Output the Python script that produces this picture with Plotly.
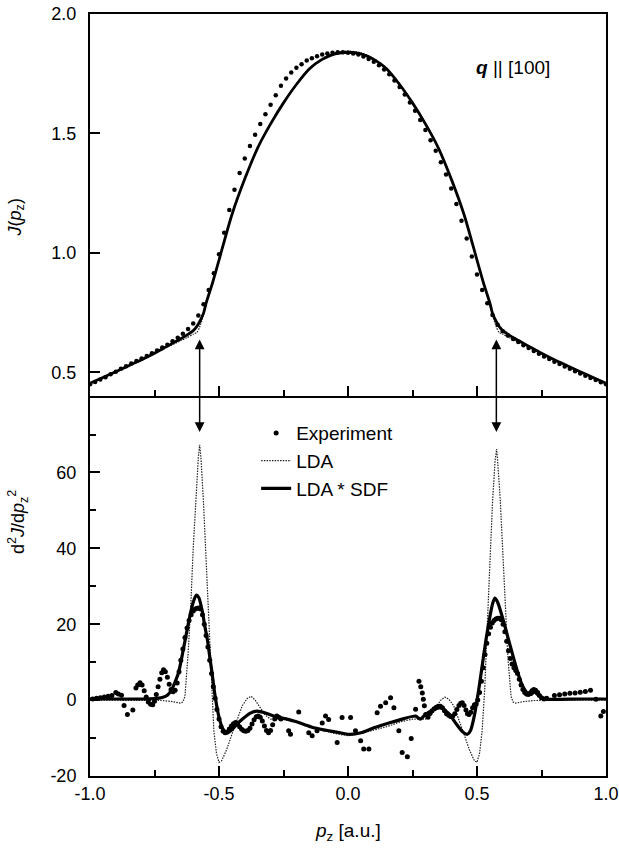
import plotly.graph_objects as go

# ---------------- top panel: Compton profile J(pz) ----------------
pz_exp_top = [-1.00, -0.98, -0.96, -0.94, -0.92, -0.90, -0.88, -0.86, -0.84, -0.82,
              -0.80, -0.78, -0.76, -0.74, -0.72, -0.70, -0.68, -0.66, -0.64, -0.62,
              -0.60, -0.58, -0.56, -0.54, -0.52, -0.50, -0.48, -0.46, -0.44, -0.42,
              -0.40, -0.38, -0.36, -0.34, -0.32, -0.30, -0.28, -0.26, -0.24, -0.22,
              -0.20, -0.18, -0.16, -0.14, -0.12, -0.10, -0.08, -0.06, -0.04, -0.02,
              0.00, 0.02, 0.04, 0.06, 0.08, 0.10, 0.12, 0.14, 0.16, 0.18,
              0.20, 0.22, 0.24, 0.26, 0.28, 0.30, 0.32, 0.34, 0.36, 0.38,
              0.40, 0.42, 0.44, 0.46, 0.48, 0.50, 0.52, 0.54, 0.56, 0.58,
              0.60, 0.62, 0.64, 0.66, 0.68, 0.70, 0.72, 0.74, 0.76, 0.78,
              0.80, 0.82, 0.84, 0.86, 0.88, 0.90, 0.92, 0.94, 0.96, 0.98, 1.00]
J_exp = [0.450, 0.460, 0.470, 0.480, 0.492, 0.503, 0.515, 0.526, 0.537, 0.548,
         0.558, 0.569, 0.580, 0.592, 0.604, 0.616, 0.630, 0.645, 0.662, 0.682,
         0.705, 0.738, 0.785, 0.845, 0.915, 0.995, 1.085, 1.180, 1.265, 1.335,
         1.395, 1.448, 1.495, 1.540, 1.580, 1.620, 1.660, 1.700, 1.730, 1.755,
         1.775, 1.790, 1.805, 1.815, 1.823, 1.830, 1.835, 1.838, 1.840, 1.840,
         1.838, 1.835, 1.830, 1.822, 1.812, 1.800, 1.785, 1.768, 1.748, 1.722,
         1.695, 1.663, 1.630, 1.595, 1.556, 1.515, 1.472, 1.428, 1.380, 1.328,
         1.270, 1.205, 1.135, 1.060, 0.985, 0.910, 0.845, 0.790, 0.740, 0.700,
         0.672, 0.655, 0.640, 0.627, 0.614, 0.602, 0.590, 0.578, 0.567, 0.556,
         0.545, 0.535, 0.525, 0.515, 0.505, 0.495, 0.486, 0.477, 0.468, 0.459, 0.450]

pz_th_top = [-1.0, -0.95, -0.9, -0.85, -0.8, -0.75, -0.7, -0.65, -0.625, -0.6,
             -0.585, -0.575, -0.56, -0.55, -0.525, -0.5, -0.45, -0.4, -0.35, -0.3,
             -0.25, -0.2, -0.15, -0.1, -0.05, 0.0,
             0.05, 0.1, 0.15, 0.2, 0.25, 0.3, 0.35, 0.4, 0.45, 0.5,
             0.525, 0.55, 0.56, 0.575, 0.585, 0.6, 0.625, 0.65, 0.7, 0.75,
             0.8, 0.85, 0.9, 0.95, 1.0]
J_sdf = [0.455, 0.479, 0.503, 0.528, 0.553, 0.580, 0.610, 0.640, 0.656, 0.675,
         0.694, 0.712, 0.748, 0.790, 0.875, 0.970, 1.160, 1.310, 1.440, 1.540,
         1.628, 1.705, 1.770, 1.810, 1.833, 1.840,
         1.833, 1.810, 1.770, 1.705, 1.628, 1.540, 1.440, 1.310, 1.160, 0.970,
         0.875, 0.790, 0.748, 0.712, 0.694, 0.675, 0.656, 0.640, 0.610, 0.580,
         0.553, 0.528, 0.503, 0.479, 0.455]
J_lda = [0.455, 0.479, 0.503, 0.528, 0.552, 0.578, 0.606, 0.632, 0.645, 0.660,
         0.668, 0.690, 0.740, 0.784, 0.872, 0.970, 1.162, 1.312, 1.442, 1.543,
         1.631, 1.708, 1.774, 1.814, 1.838, 1.845,
         1.838, 1.814, 1.774, 1.708, 1.631, 1.543, 1.442, 1.312, 1.162, 0.970,
         0.872, 0.784, 0.740, 0.690, 0.668, 0.660, 0.645, 0.632, 0.606, 0.578,
         0.552, 0.528, 0.503, 0.479, 0.455]

# ---------------- bottom panel: second derivative ----------------
pz_exp_bot = [-0.99, -0.975, -0.96, -0.945, -0.93, -0.915, -0.90, -0.89, -0.878, -0.868,
              -0.855, -0.834, -0.822, -0.815, -0.806, -0.798, -0.79, -0.782, -0.774, -0.765,
              -0.757, -0.75, -0.743, -0.736, -0.729, -0.722, -0.715, -0.708, -0.70, -0.693,
              -0.686, -0.678, -0.67, -0.662, -0.655, -0.648, -0.64, -0.632, -0.624, -0.616,
              -0.608, -0.60, -0.592, -0.585, -0.578, -0.571, -0.564, -0.557, -0.55, -0.543,
              -0.536, -0.529, -0.522, -0.515, -0.508, -0.50, -0.492, -0.484, -0.476, -0.468,
              -0.46, -0.452, -0.444, -0.436, -0.428, -0.42, -0.412, -0.404, -0.396, -0.388,
              -0.38, -0.372, -0.364, -0.356, -0.348, -0.34, -0.332, -0.324, -0.316, -0.308,
              -0.30, -0.292, -0.284, -0.276, -0.268, -0.26,
              -0.23, -0.223, -0.191, -0.152, -0.139, -0.12, -0.10, -0.087, -0.075, -0.042,
              -0.023, 0.01, 0.029, 0.049, 0.061, 0.081, 0.113, 0.126, 0.146, 0.165,
              0.178, 0.197, 0.21, 0.23, 0.245, 0.262, 0.275, 0.282, 0.288, 0.292,
              0.296, 0.301,
              0.31, 0.318, 0.326, 0.334, 0.342, 0.35, 0.358, 0.366, 0.374, 0.382,
              0.39, 0.398, 0.406, 0.414, 0.422, 0.43, 0.437, 0.443, 0.45, 0.457,
              0.463, 0.469, 0.476, 0.483, 0.49, 0.497, 0.503, 0.51, 0.517, 0.524,
              0.531, 0.538, 0.545, 0.552, 0.559, 0.566, 0.573, 0.58, 0.587, 0.594,
              0.601, 0.608, 0.615, 0.622, 0.629, 0.636, 0.643, 0.65, 0.657, 0.664,
              0.671, 0.678, 0.685, 0.692, 0.699, 0.706, 0.713, 0.72, 0.727, 0.735,
              0.742, 0.75, 0.76, 0.77,
              0.80, 0.82, 0.84, 0.86, 0.88, 0.90, 0.92, 0.94, 0.961, 0.98, 0.99]
d2_exp = [0.3, 0.5, 0.6, 0.8, 1.0, 1.2, 2.0, 1.6, 1.3, -1.4,
          -3.8, -2.6, 3.2, 4.0, 4.6, 4.0, 2.5, 0.8, -0.5, -1.1,
          -1.2, -0.3, 1.5, 3.5, 5.5, 7.2, 8.0, 7.5, 6.0, 4.2,
          2.8, 2.2, 2.6, 4.5, 7.5, 10.5, 13.5, 16.5, 19.0, 21.0,
          22.5, 23.5, 24.0, 24.2, 24.3, 24.0, 22.5, 20.0, 17.0, 14.0,
          10.5, 7.0, 3.5, 0.5, -2.5, -5.0, -7.0, -8.2, -8.6, -8.4,
          -7.6, -6.8, -6.2, -5.9, -6.3, -7.0, -7.7, -8.1, -8.2, -8.0,
          -7.4, -6.3, -5.2, -4.4, -4.2, -4.5, -5.5, -6.8, -8.0, -8.6,
          -8.0, -6.5, -5.0, -4.2, -4.5, -5.0,
          -8.1, -9.0, -3.1, -8.6, -9.4, -8.1, -6.0, -4.2, -5.1, -11.2,
          -4.6, -4.6, -8.1, -10.7, -12.9, -12.9, -3.3, -1.6, -0.7, 0.6,
          -2.0, -8.1, -13.8, -14.9, -10.1, -2.4, 5.0, 3.5, 1.9, 0.2,
          -1.5, -3.8,
          -4.5, -3.5, -2.8, -2.3, -1.9, -1.6, -1.6, -2.0, -2.8, -3.6,
          -4.0, -4.3, -4.2, -3.6, -2.5, -1.4, -0.8, -0.7, -1.4, -2.6,
          -3.6, -3.8, -3.2, -2.0, -1.2, -1.0, 0.0, 2.0, 5.0, 8.5,
          12.0, 15.0, 17.5, 19.2, 20.3, 21.0, 21.4, 21.6, 21.6, 21.2,
          20.0, 18.0, 15.5, 13.0, 11.0, 9.5, 8.5, 7.8, 7.0, 5.5,
          4.0, 2.8, 2.0, 1.6, 1.5, 1.9, 2.5, 2.8, 2.6, 2.0,
          1.2, 0.6, 0.3, 0.5,
          1.2, 1.4, 1.6, 1.8, 1.9, 2.1, 2.3, 2.6, 0.2, -4.2, -3.0]

pz_lda_bot = [-1.0, -0.9, -0.8, -0.72, -0.68, -0.65, -0.64, -0.632, -0.62, -0.61,
              -0.6, -0.59, -0.58, -0.575, -0.57, -0.56, -0.55, -0.54, -0.53, -0.52,
              -0.51, -0.5, -0.49, -0.47, -0.45, -0.43, -0.41, -0.39, -0.375, -0.36,
              -0.34, -0.32, -0.3, -0.25, -0.2, -0.15, -0.1, -0.05, 0.0,
              0.05, 0.1, 0.15, 0.2, 0.25, 0.3, 0.32, 0.34, 0.36, 0.375,
              0.39, 0.41, 0.43, 0.45, 0.47, 0.49, 0.5, 0.51, 0.52, 0.53,
              0.54, 0.55, 0.56, 0.57, 0.576, 0.58, 0.59, 0.6, 0.61, 0.62,
              0.632, 0.64, 0.65, 0.68, 0.72, 0.8, 0.9, 1.0]
d2_lda = [0.0, 0.0, 0.0, -0.1, -0.4, -0.8, -0.5, 1.0, 12.0, 24.0,
          40.0, 54.0, 64.0, 67.3, 64.0, 52.0, 37.0, 20.0, 3.0, -8.0,
          -14.0, -16.4, -16.0, -13.0, -9.0, -5.0, -1.5, 0.5, 1.0, 0.0,
          -2.0, -4.0, -5.0, -5.0, -5.8, -7.0, -8.0, -8.8, -9.4,
          -8.8, -8.0, -7.0, -5.8, -5.0, -5.0, -4.0, -2.0, 0.0, 0.8,
          0.3, -1.5, -5.0, -9.0, -13.0, -16.0, -16.4, -14.0, -8.0, 3.0,
          20.0, 37.0, 52.0, 63.0, 66.2, 63.0, 53.0, 39.0, 23.0, 11.0,
          1.0, -0.5, -0.8, -0.4, -0.1, 0.0, 0.0, 0.0]

pz_sdf_bot = [-1.0, -0.9, -0.8, -0.75, -0.72, -0.7, -0.683, -0.67, -0.657, -0.645,
              -0.631, -0.615, -0.6, -0.588, -0.578, -0.565, -0.555, -0.544, -0.535, -0.527,
              -0.515, -0.5, -0.485, -0.469, -0.45, -0.43, -0.411, -0.38, -0.353, -0.32,
              -0.288, -0.25, -0.21, -0.17, -0.133, -0.08, -0.03, 0.0,
              0.05, 0.1, 0.165, 0.21, 0.262, 0.28, 0.3, 0.33, 0.359, 0.39,
              0.42, 0.445, 0.463, 0.475, 0.49, 0.505, 0.52, 0.535, 0.55, 0.56,
              0.569, 0.58, 0.6, 0.618, 0.64, 0.657, 0.675, 0.696, 0.71, 0.722,
              0.735, 0.76, 0.8, 0.9, 1.0]
d2_sdf = [0.3, 0.3, 0.3, 0.4, 0.7, 1.3, 2.8, 4.8, 7.2, 11.0,
          15.9, 21.5, 25.8, 27.7, 27.0, 23.5, 19.5, 15.5, 11.0, 7.2,
          1.0, -4.5, -7.6, -8.6, -7.8, -6.3, -5.1, -3.5, -2.9, -3.4,
          -4.2, -4.8, -5.5, -6.4, -7.3, -8.0, -8.6, -9.0,
          -8.6, -7.3, -5.9, -5.0, -4.2, -5.0, -3.8, -2.6, -2.0, -3.5,
          -6.3, -8.4, -9.0, -8.0, -4.0, 2.0, 9.0, 16.0, 22.0, 25.3,
          26.9, 25.8, 21.5, 17.0, 11.5, 7.5, 4.0, 1.8, 1.5, 2.2,
          1.5, 0.3, 0.2, 0.3, 0.3]

x_ticks = [-1.0, -0.5, 0.0, 0.5, 1.0]
x_ticktext = ["-1.0", "-0.5", "0.0", "0.5", "1.0"]
y1_ticks = [0.5, 1.0, 1.5, 2.0]
y1_ticktext = ["0.5", "1.0", "1.5", "2.0"]
y2_ticks = [-20, 0, 20, 40, 60]
y2_ticktext = ["-20", "0", "20", "40", "60"]
arrow_pz = [-0.575, 0.575]

FONT = "Liberation Sans, Arial, Helvetica, sans-serif"
LDA_DASH = "1.5px,1.2px"

fig = go.Figure()

# top panel traces
fig.add_trace(go.Scatter(x=pz_th_top, y=J_lda, xaxis="x2", yaxis="y", mode="lines",
                         line=dict(color="#222", width=1.2, dash=LDA_DASH, shape="spline", smoothing=0.6),
                         showlegend=False))
fig.add_trace(go.Scatter(x=pz_exp_top, y=J_exp, xaxis="x2", yaxis="y", mode="markers",
                         marker=dict(color="black", size=4.5), showlegend=False))
fig.add_trace(go.Scatter(x=pz_th_top, y=J_sdf, xaxis="x2", yaxis="y", mode="lines",
                         line=dict(color="black", width=2.8, shape="spline", smoothing=0.8),
                         showlegend=False))

# bottom panel traces
fig.add_trace(go.Scatter(x=pz_lda_bot, y=d2_lda, xaxis="x", yaxis="y2", mode="lines",
                         name="LDA", legendrank=2,
                         line=dict(color="#222", width=1.2, dash=LDA_DASH)))
fig.add_trace(go.Scatter(x=pz_exp_bot, y=d2_exp, xaxis="x", yaxis="y2", mode="markers",
                         name="Experiment", legendrank=1,
                         marker=dict(color="black", size=5)))
fig.add_trace(go.Scatter(x=pz_sdf_bot, y=d2_sdf, xaxis="x", yaxis="y2", mode="lines",
                         name="LDA * SDF", legendrank=3,
                         line=dict(color="black", width=3.2, shape="spline", smoothing=0.6)))

axis_common = dict(showgrid=False, zeroline=False, showline=True, linecolor="black", linewidth=2,
                   ticks="inside", tickcolor="black", tickwidth=2, ticklen=10, automargin=False,
                   tickfont=dict(family=FONT, size=18, color="black"))
minor_x = dict(tickmode="array", tickvals=[-0.75, -0.25, 0.25, 0.75],
               ticks="inside", ticklen=6, tickwidth=2, tickcolor="black")

split = 0.4989
fig.update_layout(
    width=619, height=850,
    margin=dict(l=90, r=13, t=14, b=74),
    paper_bgcolor="white", plot_bgcolor="white",
    font=dict(family=FONT, size=18, color="black"),
    xaxis=dict(domain=[0, 1], anchor="y2", range=[-1, 1], tickmode="array",
               tickvals=x_ticks, ticktext=x_ticktext, mirror=False, ticklabelstandoff=0,
               minor=minor_x, **axis_common),
    xaxis2=dict(domain=[0, 1], anchor="y", matches="x", range=[-1, 1], tickmode="array",
                tickvals=x_ticks, showticklabels=False, mirror=True,
                minor=minor_x, **axis_common),
    yaxis=dict(domain=[split, 1], anchor="x2", range=[0.402, 2.0], tickmode="array",
               tickvals=y1_ticks, ticktext=y1_ticktext, mirror=True, ticklabelstandoff=8,
               **axis_common),
    yaxis2=dict(domain=[0, split], anchor="x", range=[-20, 80.2], tickmode="array",
                tickvals=y2_ticks, ticktext=y2_ticktext, mirror=True, ticklabelstandoff=8,
                minor=dict(tickmode="array", tickvals=[-10, 10, 30, 50, 70],
                           ticks="inside", ticklen=6, tickwidth=2, tickcolor="black"),
                **axis_common),
    legend=dict(x=0.322, y=0.475, xanchor="left", yanchor="top", bgcolor="rgba(0,0,0,0)",
                font=dict(family=FONT, size=19, color="black"), borderwidth=0,
                tracegroupgap=0),
)

annotations = [
    dict(text="<b><i>q</i></b> || [100]", xref="paper", yref="paper", x=0.82, y=0.930,
         xanchor="center", yanchor="middle",
         showarrow=False, font=dict(family=FONT, size=19, color="black")),
    dict(text="<i>J</i>(<i>p</i><sub>z</sub>)", xref="paper", yref="paper", x=-0.1435, y=0.733,
         xanchor="center", yanchor="middle",
         textangle=-90, showarrow=False, font=dict(family=FONT, size=18, color="black")),
    dict(text="d<sup>2</sup><i>J</i>/d<i>p</i><sub>z</sub><sup>2</sup>", xref="paper", yref="paper",
         x=-0.14, y=0.333, xanchor="center", yanchor="middle", textangle=-90, showarrow=False,
         font=dict(family=FONT, size=18, color="black")),
    dict(text="<i>p</i><sub>z</sub> [a.u.]", xref="paper", yref="paper", x=0.5, y=-0.074,
         xanchor="center", yanchor="middle",
         showarrow=False, font=dict(family=FONT, size=19, color="black")),
]
for px in arrow_pz:
    annotations.append(dict(x=px, y=0.4513, xref="x", yref="paper", ax=0, ay=-94,
                            axref="pixel", ayref="pixel", text="", showarrow=True,
                            arrowhead=2, startarrowhead=2, arrowside="end+start",
                            arrowsize=1.3, startarrowsize=1.3, arrowwidth=1.5, arrowcolor="black"))
fig.update_layout(annotations=annotations)

fig.write_html("out.html", config={"displayModeBar": False},
               post_script="document.body.style.margin='0';document.body.style.overflow='hidden';")
